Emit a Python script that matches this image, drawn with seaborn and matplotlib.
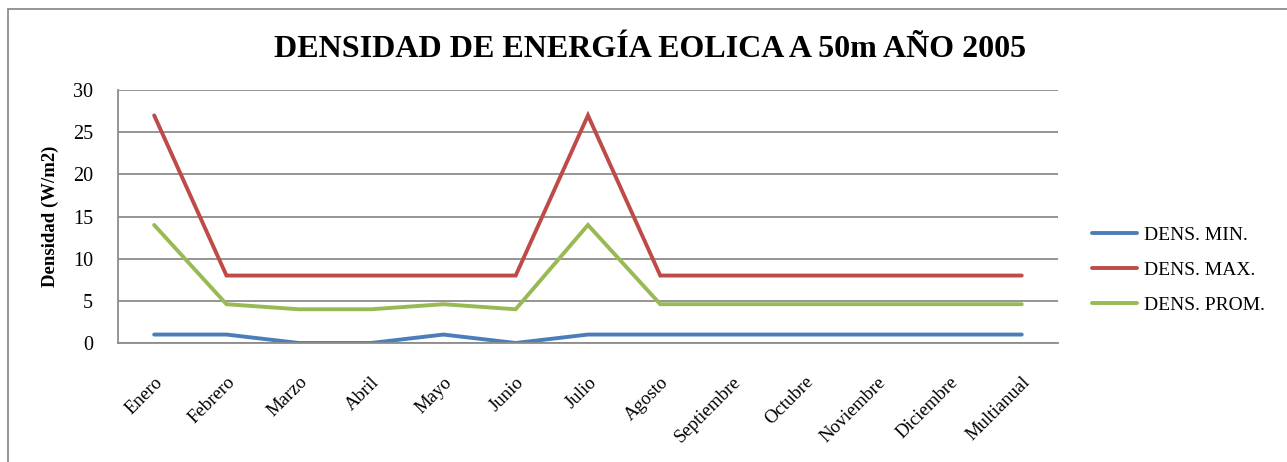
import pandas as pd
import matplotlib.pyplot as plt
import seaborn as sns
from matplotlib.patches import Rectangle

meses = ["Enero", "Febrero", "Marzo", "Abril", "Mayo", "Junio", "Julio",
         "Agosto", "Septiembre", "Octubre", "Noviembre", "Diciembre", "Multianual"]
dens_min = [1, 1, 0, 0, 1, 0, 1, 1, 1, 1, 1, 1, 1]
dens_max = [27, 8, 8, 8, 8, 8, 27, 8, 8, 8, 8, 8, 8]
dens_prom = [14, 4.6, 4, 4, 4.6, 4, 14, 4.6, 4.6, 4.6, 4.6, 4.6, 4.6]
series = ["DENS. MIN.", "DENS. MAX.", "DENS. PROM."]
colores = ["#4A7EBB", "#BE4B48", "#98B954"]

df = pd.DataFrame({"Mes": meses * 3,
                   "Serie": [s for s in series for _ in meses],
                   "Densidad": dens_min + dens_max + dens_prom})

sns.set_style("white")
plt.rcParams["font.family"] = ["Liberation Serif", "DejaVu Serif"]
plt.rcParams["text.color"] = "black"
plt.rcParams["xtick.color"] = "black"
plt.rcParams["ytick.color"] = "black"
plt.rcParams["axes.labelcolor"] = "black"

fig = plt.figure(figsize=(12.87, 4.62), dpi=100)
ax = fig.add_axes([0.0917, 0.2576, 0.7303, 0.5474])

sns.lineplot(data=df, x="Mes", y="Densidad", hue="Serie", hue_order=series,
             palette=colores, sort=False, linewidth=2.8, ax=ax,
             solid_capstyle="round", solid_joinstyle="miter")

ax.set_xlim(-0.5, len(meses) - 0.5)
ax.set_ylim(0, 30)
ax.set_yticks(range(0, 31, 5))
ax.yaxis.grid(True, color="#8c8c8c", linewidth=1.3)
ax.set_axisbelow(True)
for s in ["top", "right"]:
    ax.spines[s].set_visible(False)
for s in ["left", "bottom"]:
    ax.spines[s].set_color("#8c8c8c")
    ax.spines[s].set_linewidth(1.3)
ax.tick_params(axis="y", labelsize=14.5, length=0, pad=18)
ax.tick_params(axis="x", labelsize=13.5, length=0, pad=22)
plt.setp(ax.get_xticklabels(), rotation=45, ha="right", rotation_mode="anchor")
ax.set_xlabel("")
ax.set_ylabel("Densidad (W/m2)", fontsize=13.5, fontweight="bold", labelpad=10)

fig.suptitle("DENSIDAD DE ENERGÍA EOLICA A 50m AÑO 2005", x=0.505, y=0.925,
             fontsize=23, fontweight="bold")

ax.legend(loc="center left", bbox_to_anchor=(0.835, 0.415), bbox_transform=fig.transFigure,
          frameon=False, fontsize=14, handlelength=2.3, handletextpad=0.35,
          labelspacing=0.9)

fig.patches.append(Rectangle((8 / 1287, -0.1), 1.2, 1.1 - 9 / 462,
                             transform=fig.transFigure, fill=False,
                             edgecolor="#8c8c8c", linewidth=1.3))

fig.savefig("out.png", dpi=100)
